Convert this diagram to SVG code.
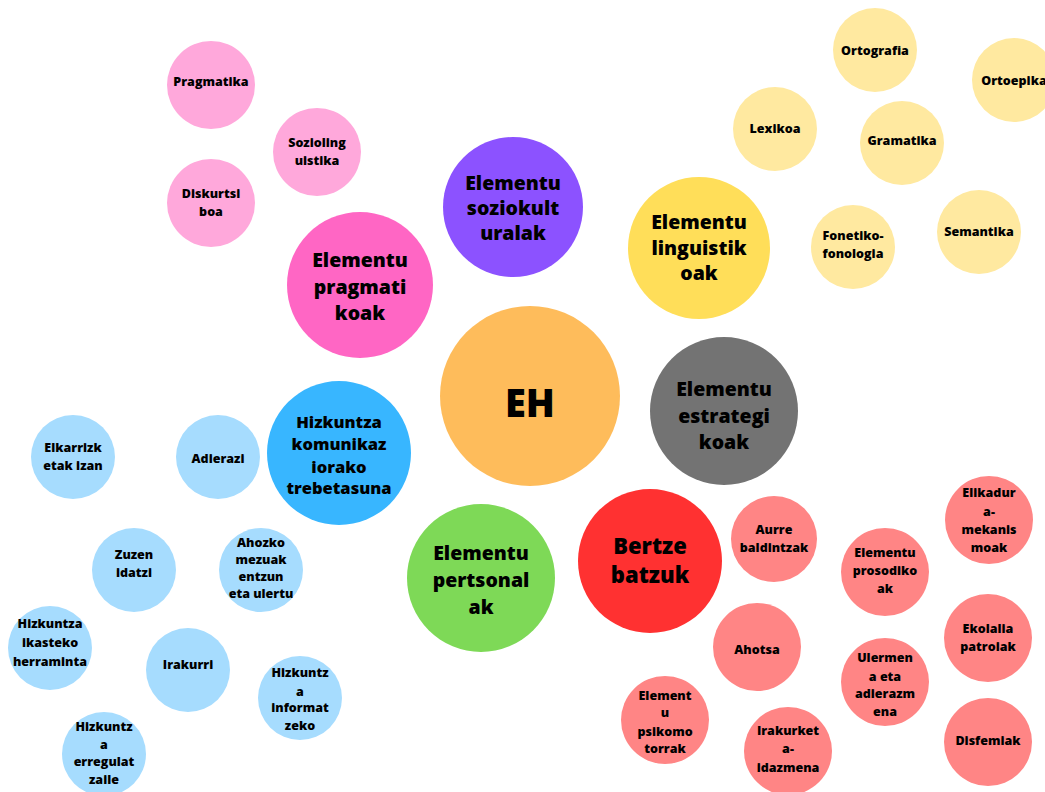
<svg xmlns="http://www.w3.org/2000/svg" width="1045" height="792" viewBox="0 0 1045 792">
<style>
text{font-family:"Open Sans","DejaVu Sans",sans-serif;font-weight:800;fill:#000;text-anchor:middle}
.s{font-size:12.5px}
.m{font-size:19.5px}
.h{font-size:16.5px}
.pk{fill:#FFA8DB}.yl{fill:#FFE9A0}.bl{fill:#A6DCFE}.rd{fill:#FF8585}
</style>
<rect width="1045" height="792" fill="#fff"/>
<g id="connectors"></g>
<g id="EH"><circle cx="530" cy="396" r="90" fill="#FEBC5B"/><text x="530" y="417" style="font-size:38px">EH</text></g>
<g id="estrategikoak"><circle cx="724" cy="411" r="74" fill="#737373"/><text class="m" x="724" y="396">Elementu</text><text class="m" x="724" y="423">estrategi</text><text class="m" x="724" y="449">koak</text></g>
<g id="soziokulturalak"><circle cx="513" cy="207" r="70" fill="#8C52FF"/><text class="m" x="513" y="190">Elementu</text><text class="m" x="513" y="215">soziokult</text><text class="m" x="513" y="240">uralak</text></g>
<g id="pragmatikoak"><circle cx="360" cy="285" r="73" fill="#FF66C4"/><text class="m" x="360" y="267">Elementu</text><text class="m" x="360" y="294">pragmati</text><text class="m" x="360" y="320">koak</text></g>
<g id="linguistikoak"><circle cx="699" cy="248" r="71" fill="#FFDE59"/><text class="m" x="699" y="229">Elementu</text><text class="m" x="699" y="255">linguistik</text><text class="m" x="699" y="280">oak</text></g>
<g id="hizkuntza"><circle cx="339" cy="453" r="72" fill="#38B6FF"/><text class="h" x="339" y="428">Hizkuntza</text><text class="h" x="339" y="450">komunikaz</text><text class="h" x="339" y="473">iorako</text><text class="h" x="339" y="494">trebetasuna</text></g>
<g id="pertsonalak"><circle cx="481" cy="578" r="74" fill="#7ED957"/><text class="m" x="481" y="560">Elementu</text><text class="m" x="481" y="587">pertsonal</text><text class="m" x="481" y="614">ak</text></g>
<g id="bertze"><circle cx="650" cy="561" r="72" fill="#FF3131"/><text x="650" y="554" style="font-size:22px">Bertze</text><text x="650" y="583" style="font-size:22px">batzuk</text></g>

<g id="pragmatika"><circle class="pk" cx="211" cy="85" r="44"/><text class="s" x="211" y="86">Pragmatika</text></g>
<g id="soziolinguistika"><circle class="pk" cx="317" cy="152" r="44"/><text class="s" x="317" y="147">Sozioling</text><text class="s" x="317" y="165">uistika</text></g>
<g id="diskurtsiboa"><circle class="pk" cx="211" cy="203" r="44"/><text class="s" x="211" y="198">Diskurtsi</text><text class="s" x="211" y="216">boa</text></g>

<g id="ortografia"><circle class="yl" cx="875" cy="50" r="42"/><text class="s" x="875" y="55">Ortografia</text></g>
<g id="ortoepika"><circle class="yl" cx="1014" cy="80" r="42"/><text class="s" x="1014" y="85">Ortoepika</text></g>
<g id="lexikoa"><circle class="yl" cx="775" cy="129" r="42"/><text class="s" x="775" y="133">Lexikoa</text></g>
<g id="gramatika"><circle class="yl" cx="902" cy="143" r="42"/><text class="s" x="902" y="145">Gramatika</text></g>
<g id="semantika"><circle class="yl" cx="979" cy="232" r="42"/><text class="s" x="979" y="236">Semantika</text></g>
<g id="fonetiko"><circle class="yl" cx="853" cy="247" r="42"/><text class="s" x="853" y="240">Fonetiko-</text><text class="s" x="853" y="258">fonologia</text></g>

<g id="elkarrizketak"><circle class="bl" cx="73" cy="457" r="42"/><text class="s" x="73" y="452">Elkarrizk</text><text class="s" x="73" y="470">etak izan</text></g>
<g id="adierazi"><circle class="bl" cx="218" cy="457" r="42"/><text class="s" x="218" y="463">Adierazi</text></g>
<g id="zuzen"><circle class="bl" cx="134" cy="570" r="42"/><text class="s" x="134" y="559">Zuzen</text><text class="s" x="134" y="577">idatzi</text></g>
<g id="ahozko"><circle class="bl" cx="261" cy="570" r="42"/><text class="s" x="261" y="547">Ahozko</text><text class="s" x="261" y="564">mezuak</text><text class="s" x="261" y="581">entzun</text><text class="s" x="261" y="598">eta ulertu</text></g>
<g id="ikasteko"><circle class="bl" cx="50" cy="648" r="42"/><text class="s" x="50" y="628">Hizkuntza</text><text class="s" x="50" y="647">ikasteko</text><text class="s" x="50" y="666">herraminta</text></g>
<g id="irakurri"><circle class="bl" cx="188" cy="670" r="42"/><text class="s" x="188" y="669">Irakurri</text></g>
<g id="informatzeko"><circle class="bl" cx="300" cy="698" r="42"/><text class="s" x="300" y="677">Hizkuntz</text><text class="s" x="300" y="696">a</text><text class="s" x="300" y="712">informat</text><text class="s" x="300" y="730">zeko</text></g>
<g id="erregulatzaile"><circle class="bl" cx="104" cy="754" r="42"/><text class="s" x="104" y="731">Hizkuntz</text><text class="s" x="104" y="749">a</text><text class="s" x="104" y="766">erregulat</text><text class="s" x="104" y="784">zaile</text></g>

<g id="aurre"><circle class="rd" cx="774" cy="539" r="43"/><text class="s" x="774" y="534">Aurre</text><text class="s" x="774" y="552">baldintzak</text></g>
<g id="prosodikoak"><circle class="rd" cx="885" cy="572" r="44"/><text class="s" x="885" y="557">Elementu</text><text class="s" x="885" y="575">prosodiko</text><text class="s" x="885" y="593">ak</text></g>
<g id="elikadura"><circle class="rd" cx="989" cy="520" r="44"/><text class="s" x="989" y="497">Elikadur</text><text class="s" x="989" y="516">a-</text><text class="s" x="989" y="534">mekanis</text><text class="s" x="989" y="552">moak</text></g>
<g id="ahotsa"><circle class="rd" cx="757" cy="647" r="44"/><text class="s" x="757" y="654">Ahotsa</text></g>
<g id="ekolalia"><circle class="rd" cx="988" cy="638" r="44"/><text class="s" x="988" y="633">Ekolalia</text><text class="s" x="988" y="651">patroiak</text></g>
<g id="ulermena"><circle class="rd" cx="885" cy="682" r="44"/><text class="s" x="885" y="662">Ulermen</text><text class="s" x="885" y="681">a eta</text><text class="s" x="885" y="698">adierazm</text><text class="s" x="885" y="716">ena</text></g>
<g id="psikomotorrak"><circle class="rd" cx="665" cy="720" r="44"/><text class="s" x="665" y="700">Element</text><text class="s" x="665" y="717">u</text><text class="s" x="665" y="736">psikomo</text><text class="s" x="665" y="753">torrak</text></g>
<g id="irakurketa"><circle class="rd" cx="788" cy="751" r="44"/><text class="s" x="788" y="735">Irakurket</text><text class="s" x="788" y="753">a-</text><text class="s" x="788" y="772">idazmena</text></g>
<g id="disfemiak"><circle class="rd" cx="988" cy="742" r="44"/><text class="s" x="988" y="745">Disfemiak</text></g>
</svg>
